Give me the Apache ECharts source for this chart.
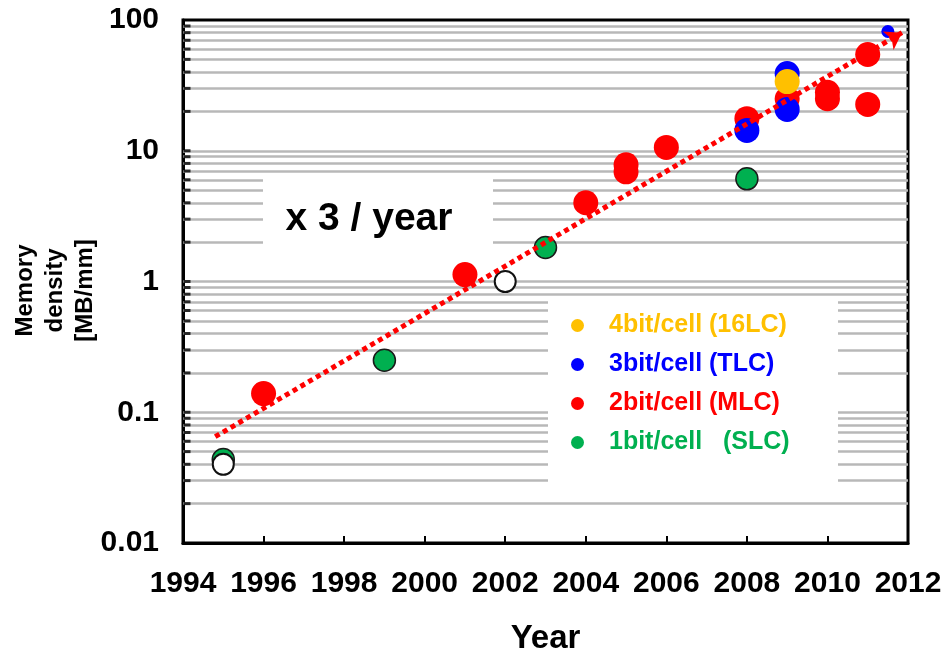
<!DOCTYPE html>
<html>
<head>
<meta charset="utf-8">
<script src="https://cdn.jsdelivr.net/npm/echarts@6/dist/echarts.min.js"></script>
<style>
  html, body { margin: 0; padding: 0; background: #fff; }
  #chart { width: 949px; height: 654px; }
</style>
</head>
<body>
<div id="chart"></div>
<script>
// values (year, MB/mm)
const slcPoints = [[1995, 0.0435], [1999, 0.25], [2003, 1.82], [2008, 6.1]];
const openPoints = [[1995, 0.040], [2002, 1.0]];
const mlcPoints = [[1996, 0.139], [2001, 1.13], [2004, 4.0], [2005, 7.8], [2005, 6.9], [2006, 10.6],
    [2008, 17.6], [2009, 25], [2010, 28], [2010, 25], [2011, 54.5], [2011, 22.6]];
const tlcPoints = [[2008, 14.3], [2009, 20.7], [2009, 39]];
const tlcSmallPoints = [[2011.5, 81.7]];
const qlcPoints = [[2009, 33.8]];
const trendLine = [[1994.8, 0.065], [2011.85, 80]];
const gridValues = [0.02, 0.03, 0.04, 0.05, 0.06, 0.07, 0.08, 0.09, 0.1,
    0.2, 0.3, 0.4, 0.5, 0.6, 0.7, 0.8, 0.9, 1,
    2, 3, 4, 5, 6, 7, 8, 9, 10,
    20, 30, 40, 50, 60, 70, 80, 90];

const names = ['4bit/cell (16LC)', '3bit/cell (TLC)', '2bit/cell (MLC)', '1bit/cell   (SLC)'];
const colors = ['#FFC000', '#0000FF', '#FF0000', '#00B050'];

const font = 'Liberation Sans, Arial, sans-serif';
const myChart = echarts.init(document.getElementById('chart'));

const option = {
    animation: false,
    grid: {
        left: 183, right: 41, top: 20, bottom: 111,
        outerBoundsMode: 'none', containLabel: false,
        show: true, borderColor: '#000', borderWidth: 3
    },
    xAxis: {
        type: 'value', min: 1994, max: 2012, interval: 2,
        name: 'Year', nameLocation: 'middle', nameGap: 79,
        nameTextStyle: { fontFamily: font, fontSize: 33, fontWeight: 'bold', color: '#000' },
        axisLine: { lineStyle: { color: '#000', width: 3 } },
        axisTick: { inside: true, length: 7, lineStyle: { color: '#000', width: 2 } },
        axisLabel: {
            fontFamily: font, fontSize: 30, fontWeight: 'bold', color: '#000', margin: 26,
            formatter: v => String(v)
        },
        splitLine: { show: false }
    },
    yAxis: {
        type: 'log', logBase: 10, min: 0.01, max: 100,
        name: 'Memory\ndensity\n[MB/mm]', nameLocation: 'middle', nameRotate: 90,
        nameGap: 83, nameMoveOverlap: false,
        nameTextStyle: {
            fontFamily: font, fontSize: 24, fontWeight: 'bold', color: '#000', lineHeight: 30,
            padding: [0, 18, 0, 0]
        },
        axisLine: { lineStyle: { color: '#000', width: 3 } },
        axisTick: { show: false },
        axisLabel: { fontFamily: font, fontSize: 30, fontWeight: 'bold', color: '#000', margin: 24 },
        splitLine: { show: false }
    },
    legend: {
        orient: 'vertical', left: 566, top: 308, itemGap: 14,
        itemWidth: 13, itemHeight: 13, icon: 'circle',
        itemStyle: { borderWidth: 0 },
        textStyle: { fontFamily: font, fontSize: 25, fontWeight: 'bold', lineHeight: 25, padding: [0, 0, 0, 20] },
        data: names.map((n, i) => ({ name: n, textStyle: { color: colors[i] } }))
    },
    graphic: [
        { type: 'rect', z: 2, silent: true, shape: { x: 263, y: 174, width: 230, height: 76 }, style: { fill: '#fff' } },
        { type: 'rect', z: 2, silent: true, shape: { x: 548, y: 297, width: 290, height: 193 }, style: { fill: '#fff' } },
        {
            type: 'text', z: 20, x: 369, y: 219,
            style: { text: 'x 3 / year', fill: '#000', font: 'bold 39px ' + font, align: 'center', verticalAlign: 'middle' }
        }
    ],
    series: [
        {
            // gridlines and the small inside ticks on the left axis
            type: 'scatter', z: 1, silent: true,
            data: gridValues.map(v => [1994, v]),
            symbol: 'rect', symbolSize: [7, 3], symbolOffset: [4, 0],
            itemStyle: { color: '#000' },
            markLine: {
                z: 1, silent: true, symbol: 'none', label: { show: false },
                lineStyle: { color: '#B8B8B8', width: 2.5, type: 'solid' },
                data: gridValues.map(v => ({ yAxis: v }))
            }
        },
        {
            name: names[3], type: 'scatter', z: 3, data: slcPoints, symbolSize: 22,
            itemStyle: { color: colors[3], borderColor: '#1a1a1a', borderWidth: 1.5, opacity: 1 }
        },
        {
            type: 'scatter', z: 4, data: openPoints, symbolSize: 21,
            itemStyle: { color: '#fff', borderColor: '#111', borderWidth: 2, opacity: 1 }
        },
        {
            name: names[2], type: 'scatter', z: 4, data: mlcPoints, symbolSize: 25,
            itemStyle: { color: colors[2], opacity: 1 }
        },
        {
            name: names[1], type: 'scatter', z: 5,
            data: tlcPoints.concat(tlcSmallPoints.map(p => ({ value: p, symbolSize: 13 }))),
            symbolSize: 25, itemStyle: { color: colors[1], opacity: 1 }
        },
        {
            name: names[0], type: 'scatter', z: 6, data: qlcPoints, symbolSize: 25,
            itemStyle: { color: colors[0], opacity: 1 }
        },
        {
            type: 'line', z: 10, silent: true, data: [],
            markLine: {
                z: 10, silent: true, symbol: ['none', 'arrow'], symbolSize: 16, label: { show: false },
                lineStyle: { color: '#FF0000', width: 5, type: [5, 4] },
                data: [[{ coord: trendLine[0] }, { coord: trendLine[1] }]]
            }
        }
    ]
};
myChart.setOption(option);
</script>
</body>
</html>
